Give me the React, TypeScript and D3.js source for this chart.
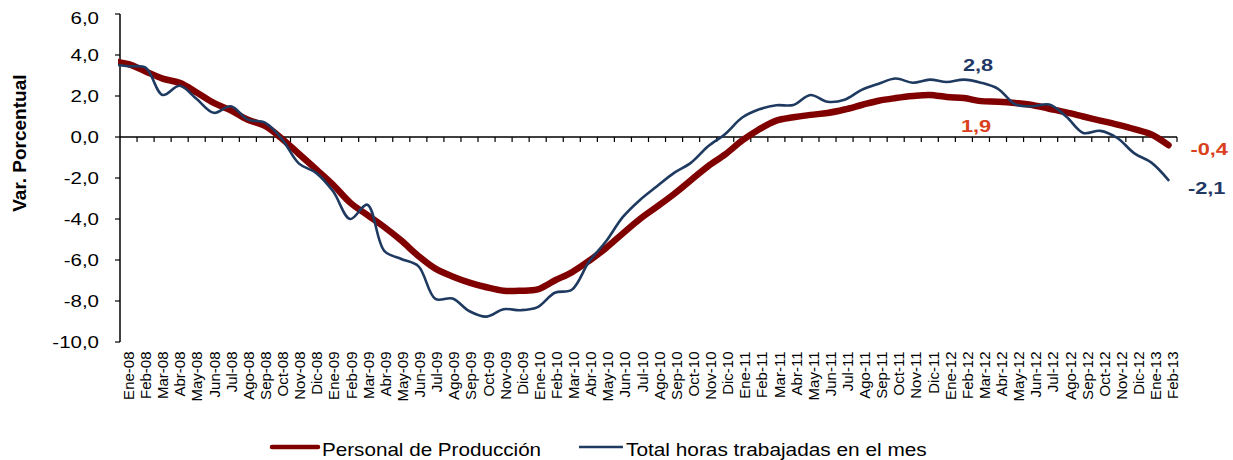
import React from "react";
import * as d3 from "d3";

// months shown on the category axis
const months = [
  "Ene-08", "Feb-08", "Mar-08", "Abr-08", "May-08", "Jun-08", "Jul-08", "Ago-08", "Sep-08", "Oct-08", "Nov-08", "Dic-08",
  "Ene-09", "Feb-09", "Mar-09", "Abr-09", "May-09", "Jun-09", "Jul-09", "Ago-09", "Sep-09", "Oct-09", "Nov-09", "Dic-09",
  "Ene-10", "Feb-10", "Mar-10", "Abr-10", "May-10", "Jun-10", "Jul-10", "Ago-10", "Sep-10", "Oct-10", "Nov-10", "Dic-10",
  "Ene-11", "Feb-11", "Mar-11", "Abr-11", "May-11", "Jun-11", "Jul-11", "Ago-11", "Sep-11", "Oct-11", "Nov-11", "Dic-11",
  "Ene-12", "Feb-12", "Mar-12", "Abr-12", "May-12", "Jun-12", "Jul-12", "Ago-12", "Sep-12", "Oct-12", "Nov-12", "Dic-12",
  "Ene-13", "Feb-13",
];

// Personal de Producción (var. %)
const personal = [
  3.55, 3.2, 2.85, 2.64, 2.17, 1.66, 1.3, 0.84, 0.54, -0.08, -0.83, -1.57,
  -2.33, -3.2, -3.8, -4.39, -5.05, -5.8, -6.42, -6.8, -7.1, -7.33, -7.5, -7.5,
  -7.43, -7.0, -6.6, -6.05, -5.42, -4.7, -4.0, -3.4, -2.78, -2.1, -1.42, -0.85,
  -0.17, 0.38, 0.8, 0.96, 1.08, 1.17, 1.34, 1.56, 1.77, 1.9, 2.0, 2.05,
  1.95, 1.9, 1.75, 1.72, 1.66, 1.56, 1.38, 1.2, 1.0, 0.8, 0.6, 0.38,
  0.12, -0.4,
];

// Total horas trabajadas en el mes (var. %)
const horas = [
  3.45, 3.38, 2.05, 2.5, 1.85, 1.18, 1.5, 0.85, 0.7, -0.1, -1.3, -1.75,
  -2.65, -4.0, -3.3, -5.55, -5.95, -6.3, -7.9, -7.88, -8.5, -8.76, -8.4, -8.45,
  -8.3, -7.6, -7.45, -6.1, -5.1, -3.9, -3.07, -2.4, -1.75, -1.25, -0.45, 0.15,
  0.95, 1.35, 1.55, 1.56, 2.05, 1.72, 1.82, 2.3, 2.6, 2.85, 2.65, 2.8,
  2.68, 2.8, 2.65, 2.35, 1.6, 1.5, 1.58, 1.0, 0.2, 0.3, -0.05, -0.8,
  -1.25, -2.1,
];

// month before the axis starts (Dic-07), the lines run in from it
const prevPersonal = 3.7;
const prevHoras = 3.55;

const yTicks = [6, 4, 2, 0, -2, -4, -6, -8, -10];

const seriesNames = ["Personal de Producción", "Total horas trabajadas en el mes"];

const RED = "#800000";
const BLUE = "#1f3a60";
const LABEL_RED = "#d9401c";
const LABEL_BLUE = "#1f3864";
const FONT = "'Liberation Sans', Arial, sans-serif";

const fmt = (v: number) => v.toFixed(1).replace(".", ",");

export default function App() {
  const width = 1233;
  const height = 460;
  const left = 120;
  const right = 1177;

  const x = d3.scaleBand().domain(months).range([left, right]).padding(0);
  const step = x.bandwidth();
  const cx = (m: string) => (x(m) as number) + step / 2;
  const y = d3.scaleLinear().domain([-10, 6]).range([342, 14]);

  const line = d3
    .line<[number, number]>()
    .x((d) => d[0])
    .y((d) => y(d[1]))
    .curve(d3.curveCatmullRom);

  const pts = (vals: number[], prev: number): [number, number][] => [
    [cx(months[0]) - step, prev],
    ...vals.map((v, i) => [cx(months[i]), v] as [number, number]),
  ];

  const last = months[months.length - 1];
  const feb12 = "Feb-12";
  const sx = 1.28;

  return (
    <svg width={width} height={height} style={{ display: "block", position: "absolute", left: 0, top: 0 }} fontFamily={FONT}>
      <defs>
        <clipPath id="plot">
          <rect x={left - 2} y={0} width={right - left + 60} height={360} />
        </clipPath>
      </defs>

      {/* y axis label */}
      <text
        transform={`translate(26, ${y(-0.3)}) rotate(-90)`}
        textAnchor="middle"
        fontSize={19}
        fontWeight="bold"
        fill="#000"
      >
        Var. Porcentual
      </text>

      {/* y axis */}
      <line x1={left} x2={left} y1={y(6)} y2={y(-10)} stroke="#000" strokeWidth={1.5} />
      {yTicks.map((t) => (
        <g key={t}>
          <line x1={left - 5} x2={left} y1={y(t)} y2={y(t)} stroke="#000" strokeWidth={1.2} />
          <text
            transform={`translate(99, ${y(t) + (t === 6 ? 10 : 6)}) scale(${sx},1)`}
            textAnchor="end"
            fontSize={16}
            fill="#000"
          >
            {fmt(t)}
          </text>
        </g>
      ))}

      {/* x axis at zero */}
      <line x1={left} x2={right} y1={y(0)} y2={y(0)} stroke="#000" strokeWidth={1.5} />
      {months.map((m) => (
        <line
          key={m}
          x1={(x(m) as number) + step}
          x2={(x(m) as number) + step}
          y1={y(0)}
          y2={y(0) + 5}
          stroke="#000"
          strokeWidth={1.2}
        />
      ))}
      {months.map((m, i) => (
        <text
          key={m}
          transform={`translate(${cx(m) + 5.5 + i * 0.07}, 351.5) rotate(-90)`}
          textAnchor="end"
          fontSize={15}
          fill="#000"
        >
          {m}
        </text>
      ))}

      {/* series */}
      <g clipPath="url(#plot)">
        <path d={line(pts(personal, prevPersonal)) || ""} fill="none" stroke={RED} strokeWidth={6.5} strokeLinecap="round" />
        <path d={line(pts(horas, prevHoras)) || ""} fill="none" stroke={BLUE} strokeWidth={2.6} strokeLinecap="round" />
      </g>

      {/* value labels */}
      <text transform={`translate(${cx(feb12) - 1}, ${y(2.8) - 9}) scale(${sx},1)`} fontSize={17} fontWeight="bold" fill={LABEL_BLUE}>
        {fmt(horas[months.indexOf(feb12)])}
      </text>
      <text transform={`translate(${cx(feb12) - 3}, ${y(1.9) + 34}) scale(${sx},1)`} fontSize={17} fontWeight="bold" fill={LABEL_RED}>
        {fmt(personal[months.indexOf(feb12)])}
      </text>
      <text transform={`translate(${cx(last) + 22}, ${y(-0.4) + 10}) scale(${sx},1)`} fontSize={17} fontWeight="bold" fill={LABEL_RED}>
        {fmt(personal[personal.length - 1])}
      </text>
      <text transform={`translate(${cx(last) + 19.5}, ${y(-2.1) + 14}) scale(${sx},1)`} fontSize={17} fontWeight="bold" fill={LABEL_BLUE}>
        {fmt(horas[horas.length - 1])}
      </text>

      {/* legend */}
      <line x1={272} x2={318} y1={447} y2={447} stroke={RED} strokeWidth={4.5} strokeLinecap="round" />
      <text transform={`translate(322, 456) scale(1.18,1)`} fontSize={17.5} fill="#000">
        {seriesNames[0]}
      </text>
      <line x1={579} x2={623} y1={447} y2={447} stroke={BLUE} strokeWidth={2.6} />
      <text transform={`translate(626, 456) scale(1.19,1)`} fontSize={17.5} fill="#000">
        {seriesNames[1]}
      </text>
    </svg>
  );
}
